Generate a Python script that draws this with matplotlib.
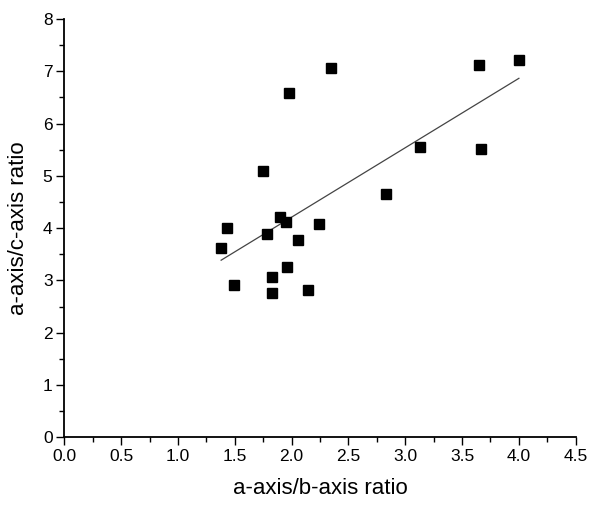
import numpy as np
import matplotlib
matplotlib.use('Agg')
import matplotlib.pyplot as plt
from matplotlib.ticker import MultipleLocator

plt.rcParams['font.family'] = ['Liberation Sans', 'DejaVu Sans']

# a-axis/b-axis ratio vs a-axis/c-axis ratio
ab_ratio = [2.35, 1.98, 3.65, 4.00, 3.13, 3.67, 1.75, 2.83, 1.90, 1.95,
            1.43, 1.78, 2.24, 2.06, 1.38, 1.96, 1.83, 1.49, 1.83, 2.14]
ac_ratio = [7.07, 6.58, 7.12, 7.21, 5.56, 5.51, 5.10, 4.65, 4.22, 4.11,
            4.01, 3.89, 4.08, 3.78, 3.62, 3.25, 3.06, 2.91, 2.76, 2.82]

x = np.array(ab_ratio)
y = np.array(ac_ratio)
slope, intercept = np.polyfit(x, y, 1)

fig = plt.figure(figsize=(5.9, 5.07), dpi=100)
ax = fig.add_axes([0.109, 0.1375, 0.8668, 0.825])

ax.plot(x, y, 's', color='black', markersize=6.5, zorder=3)
xfit = np.array([x.min(), x.max()])
ax.plot(xfit, slope * xfit + intercept, color='#444444', linewidth=0.9, zorder=2)

ax.set_xlim(0, 4.5)
ax.set_ylim(0, 8)
ax.xaxis.set_major_locator(MultipleLocator(0.5))
ax.xaxis.set_minor_locator(MultipleLocator(0.25))
ax.yaxis.set_major_locator(MultipleLocator(1))
ax.yaxis.set_minor_locator(MultipleLocator(0.5))
ax.xaxis.set_major_formatter(matplotlib.ticker.FormatStrFormatter('%.1f'))

for side in ['top', 'right']:
    ax.spines[side].set_visible(False)
for side in ['left', 'bottom']:
    ax.spines[side].set_linewidth(1.3)

ax.tick_params(which='major', direction='out', length=5.5, width=1.0, labelsize=12.5, pad=3)
ax.tick_params(which='minor', direction='out', length=3.5, width=1.0)

ax.set_xlabel('a-axis/b-axis ratio', fontsize=16, labelpad=10)
ax.set_ylabel('a-axis/c-axis ratio', fontsize=16, labelpad=10)

fig.savefig('out.png', dpi=100)
